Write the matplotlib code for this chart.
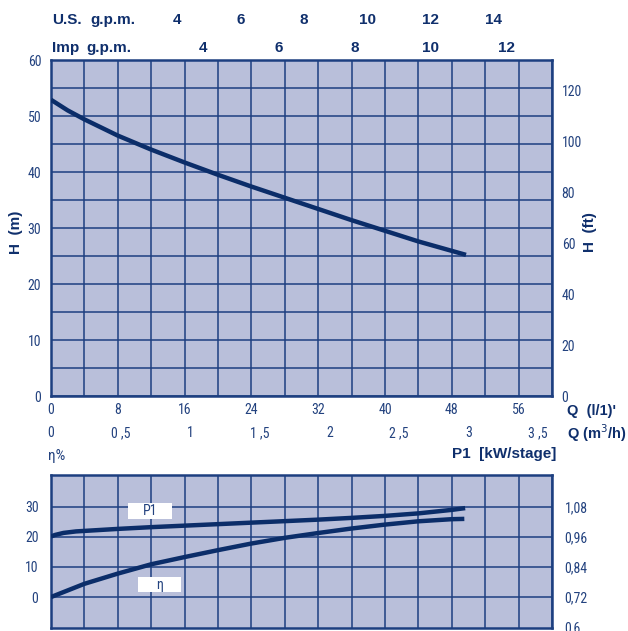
#!/usr/bin/env python3
# -*- coding: utf-8 -*-

import matplotlib
matplotlib.use("Agg")
import matplotlib.pyplot as plt
from matplotlib import font_manager
from matplotlib.patches import Rectangle
import matplotlib.transforms as mtransforms

# -------- data --------
# head curve, Q in l/min, H in m
Q_H = [0, 2, 4, 8, 12, 16, 20, 24, 28, 32, 36, 40, 44, 49.7]
H_M = [52.9, 51.0, 49.4, 46.5, 44.0, 41.7, 39.5, 37.4, 35.4, 33.4, 31.4, 29.5, 27.6, 25.2]

# efficiency curve, eta in %
Q_ETA = [0, 4, 8, 12, 16, 20, 24, 28, 32, 36, 40, 44, 48, 49.5]
ETA = [0, 4.4, 7.8, 10.9, 13.3, 15.6, 17.8, 19.7, 21.3, 22.8, 24.1, 25.2, 25.9, 26.0]

# power curve, P1 in kW/stage
Q_P1 = [0, 0.5, 1.5, 3, 5, 8, 12, 16, 20, 24, 28, 32, 36, 40, 44, 48, 49.6]
P1_KW = [0.962, 0.968, 0.976, 0.982, 0.986, 0.992, 0.999, 1.005, 1.011, 1.017,
         1.023, 1.029, 1.036, 1.044, 1.054, 1.068, 1.075]

# axis ticks
Q_TICKS = [0, 8, 16, 24, 32, 40, 48, 56]
M3H_TICKS = [0, 0.5, 1, 1.5, 2, 2.5, 3, 3.5]
M3H_LABELS = ["0", "0 ,5", "1", "1 ,5", "2", "2 ,5", "3", "3 ,5"]
US_GPM = [4, 6, 8, 10, 12, 14]
IMP_GPM = [4, 6, 8, 10, 12]
FT_TICKS = [0, 20, 40, 60, 80, 100, 120]
P1_TICKS = [0.6, 0.72, 0.84, 0.96, 1.08]

# -------- style --------
FILL = "#b9bfda"
LINE = "#0b2d69"
GRID = "#1d3f80"
TXT = "#23427f"
BOLD_TXT = "#0f2f6c"


def pick_font(names):
    for n in names:
        try:
            font_manager.findfont(font_manager.FontProperties(family=n),
                                  fallback_to_default=False)
            return n
        except Exception:
            continue
    return "DejaVu Sans"


NARROW = pick_font(["Liberation Sans Narrow", "Arial Narrow", "Roboto Condensed", "Liberation Sans"])
BOLDF = pick_font(["Liberation Sans", "Arial", "DejaVu Sans"])

TICK_FS = 10
LAB_FS = 11

W, H = 628, 631
fig = plt.figure(figsize=(W / 100, H / 100), dpi=100)


def fig_rect(x0, y0, x1, y1):
    return [x0 / W, 1 - y1 / H, (x1 - x0) / W, (y1 - y0) / H]


ax_h = fig.add_axes(fig_rect(51, 60, 552, 396))
ax_e = fig.add_axes(fig_rect(51, 475, 552, 628))

for ax in (ax_h, ax_e):
    ax.set_facecolor(FILL)
    ax.set_xlim(0, 60)
    ax.set_xticks(range(0, 61, 4))
    ax.tick_params(length=0, colors=TXT, labelsize=TICK_FS)
    ax.grid(True, which="both", color=GRID, linewidth=1.1)
    ax.set_axisbelow(True)
    for s in ax.spines.values():
        s.set_color(GRID)
        s.set_linewidth(1.8)

# -------- top panel: H --------
ax_h.set_ylim(0, 60)
ax_h.set_yticks(range(0, 61, 10))
ax_h.set_yticks(range(5, 60, 10), minor=True)
ax_h.tick_params(which="minor", length=0)
ax_h.set_xticklabels([str(int(v)) if v in Q_TICKS else "" for v in range(0, 61, 4)],
                     fontfamily=NARROW)
ax_h.set_yticklabels([str(v) for v in range(0, 61, 10)], fontfamily=NARROW)
ax_h.tick_params(axis="x", pad=5)
ax_h.tick_params(axis="y", pad=7)
ax_h.plot(Q_H, H_M, color=LINE, linewidth=3.2, solid_capstyle="butt", zorder=3)

ax_ft = ax_h.twinx()
ax_ft.set_ylim(0, 132)
ax_ft.set_yticks(FT_TICKS)
ax_ft.set_yticklabels([str(v) for v in FT_TICKS], fontfamily=NARROW)
ax_ft.tick_params(length=0, colors=TXT, labelsize=TICK_FS, pad=7)
for s in ax_ft.spines.values():
    s.set_visible(False)

# m3/h row under the l/min ticks
blend = mtransforms.blended_transform_factory(ax_h.transData, fig.transFigure)
for v, lab in zip(M3H_TICKS, M3H_LABELS):
    ax_h.text(v * 1000 / 60, 1 - 433 / H, lab, transform=blend, ha="center", va="center",
              fontsize=TICK_FS, color=TXT, fontfamily=NARROW)

# gpm rows above
for v in US_GPM:
    ax_h.text(v * 3.785, 1 - 20 / H, str(v), transform=blend, ha="center", va="center",
              fontsize=LAB_FS, color=BOLD_TXT, fontweight="bold", fontfamily=BOLDF)
for v in IMP_GPM:
    ax_h.text(v * 4.546, 1 - 48 / H, str(v), transform=blend, ha="center", va="center",
              fontsize=LAB_FS, color=BOLD_TXT, fontweight="bold", fontfamily=BOLDF)

bold_kw = dict(fontsize=LAB_FS, color=BOLD_TXT, fontweight="bold", fontfamily=BOLDF,
               va="center")
fig.text(52 / W, 1 - 20 / H, "U.S.", ha="left", **bold_kw)
fig.text(90 / W, 1 - 20 / H, "g.p.m.", ha="left", **bold_kw)
fig.text(52 / W, 1 - 48 / H, "Imp", ha="left", **bold_kw)
fig.text(86 / W, 1 - 48 / H, "g.p.m.", ha="left", **bold_kw)

right_kw = dict(bold_kw, fontsize=10.5)
fig.text(567 / W, 1 - 411 / H, "Q  (l/1)'", ha="left", **right_kw)
fig.text(567 / W, 1 - 433 / H, "Q (m$^3$/h)", ha="left", **right_kw)
fig.text(556 / W, 1 - 454 / H, "P1  [kW/stage]", ha="right", **bold_kw)
fig.text(48 / W, 1 - 456 / H, "η%", ha="left", fontsize=LAB_FS, color=TXT,
         fontfamily=NARROW, va="center")

fig.text(16 / W, 1 - 232 / H, "H  (m)", rotation=90, ha="center", **bold_kw)
fig.text(590 / W, 1 - 232 / H, "H  (ft)", rotation=90, ha="center", **bold_kw)

# -------- bottom panel: eta and P1 --------
ETA_LO, ETA_HI = -10.3, 40.6
ax_e.set_ylim(ETA_LO, ETA_HI)
ax_e.set_yticks([0, 10, 20, 30])
ax_e.set_yticklabels(["0", "10", "20", "30"], fontfamily=NARROW)
ax_e.set_xticklabels([])
ax_e.tick_params(axis="y", pad=9)
ax_e.plot(Q_ETA, ETA, color=LINE, linewidth=3.2, solid_capstyle="butt", zorder=3)

ax_p = ax_e.twinx()
ax_p.set_ylim(0.72 + 0.012 * ETA_LO, 0.72 + 0.012 * ETA_HI)
ax_p.set_yticks(P1_TICKS)
ax_p.set_yticklabels([f"{v:g}".replace(".", ",") for v in P1_TICKS], fontfamily=NARROW)
ax_p.tick_params(length=0, colors=TXT, labelsize=TICK_FS, pad=9)
for s in ax_p.spines.values():
    s.set_visible(False)
ax_p.plot(Q_P1, P1_KW, color=LINE, linewidth=3.2, solid_capstyle="butt", zorder=3)

# curve name boxes
ax_e.add_patch(Rectangle((9.2, 25.9), 5.3, 5.3, facecolor="white", edgecolor="none", zorder=4))
ax_e.text(11.85, 28.6, "P1", ha="center", va="center", fontsize=TICK_FS, color=TXT,
          fontfamily=NARROW, zorder=5)
ax_e.add_patch(Rectangle((10.4, 1.6), 5.2, 5.0, facecolor="white", edgecolor="none", zorder=4))
ax_e.text(13.0, 4.1, "η", ha="center", va="center", fontsize=TICK_FS, color=TXT,
          fontfamily=NARROW, zorder=5)

fig.savefig("out.png", dpi=100)
